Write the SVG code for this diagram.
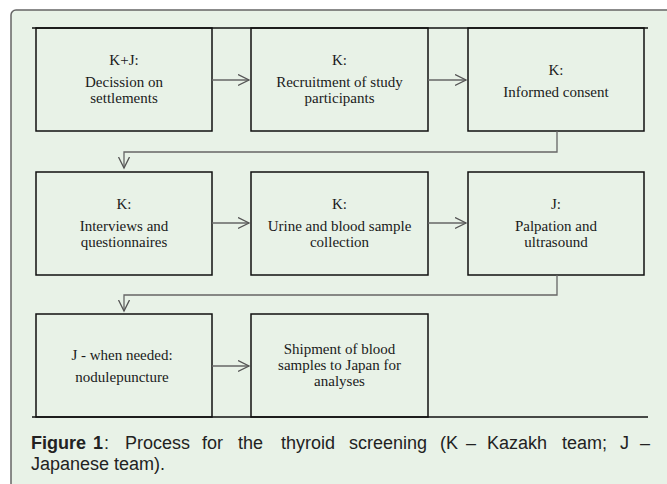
<svg xmlns="http://www.w3.org/2000/svg" width="667" height="484" viewBox="0 0 667 484">
<defs>
<style>
.box{fill:none;stroke:#111;stroke-width:1.5}
.ln{fill:none;stroke:#111;stroke-width:1.5}
.con{fill:none;stroke:#666;stroke-width:1.3}
.t{font-family:"Liberation Serif","Times New Roman",serif;font-size:15px;fill:#1a1a1a;text-anchor:middle}
.cap{font-family:"Liberation Sans",Arial,sans-serif;font-size:18px;fill:#222}
</style>
<marker id="ah" markerWidth="14" markerHeight="14" refX="11" refY="6" orient="auto" markerUnits="userSpaceOnUse">
<path d="M0,0.5 L11,6 L0,11.5" fill="none" stroke="#555" stroke-width="1.3"/>
</marker>
</defs>
<rect x="0" y="0" width="667" height="484" fill="#ffffff"/>
<rect id="panel" x="11" y="10" width="670" height="500" rx="5" fill="#e8f2e7" stroke="#666" stroke-width="1.5"/>
<g id="frame-lines">
<line class="ln" x1="32" y1="28" x2="648" y2="28"/>
<line class="ln" x1="32" y1="417" x2="648" y2="417"/>
</g>
<g id="n1"><rect class="box" x="36" y="28" width="176" height="103"/>
<text class="t" x="124" y="65">K+J:</text><text class="t" x="124" y="87">Decission on</text><text class="t" x="124" y="103">settlements</text></g>
<g id="n2"><rect class="box" x="251" y="28" width="177" height="103"/>
<text class="t" x="339.5" y="65">K:</text><text class="t" x="339.5" y="87">Recruitment of study</text><text class="t" x="339.5" y="103">participants</text></g>
<g id="n3"><rect class="box" x="468" y="28" width="176" height="103"/>
<text class="t" x="556" y="75">K:</text><text class="t" x="556" y="97">Informed consent</text></g>
<g id="n4"><rect class="box" x="36" y="172" width="176" height="103"/>
<text class="t" x="124" y="209">K:</text><text class="t" x="124" y="231">Interviews and</text><text class="t" x="124" y="247">questionnaires</text></g>
<g id="n5"><rect class="box" x="251" y="172" width="177" height="103"/>
<text class="t" x="339.5" y="209">K:</text><text class="t" x="339.5" y="231">Urine and blood sample</text><text class="t" x="339.5" y="247">collection</text></g>
<g id="n6"><rect class="box" x="468" y="172" width="176" height="103"/>
<text class="t" x="556" y="209">J:</text><text class="t" x="556" y="231">Palpation and</text><text class="t" x="556" y="247">ultrasound</text></g>
<g id="n7"><rect class="box" x="36" y="314" width="176" height="103"/>
<text class="t" x="122" y="360">J - when needed:</text><text class="t" x="122" y="382">nodulepuncture</text></g>
<g id="n8"><rect class="box" x="251" y="314" width="177" height="103"/>
<text class="t" x="339.5" y="354">Shipment of blood</text><text class="t" x="339.5" y="370">samples to Japan for</text><text class="t" x="339.5" y="386">analyses</text></g>
<g id="connectors">
<line class="con" x1="212" y1="80" x2="249" y2="80" marker-end="url(#ah)"/>
<line class="con" x1="428" y1="80" x2="466" y2="80" marker-end="url(#ah)"/>
<polyline class="con" points="557,131 557,152 124,152 124,168" marker-end="url(#ah)"/>
<line class="con" x1="212" y1="223" x2="249" y2="223" marker-end="url(#ah)"/>
<line class="con" x1="428" y1="223" x2="466" y2="223" marker-end="url(#ah)"/>
<polyline class="con" points="557,275 557,295 124,295 124,311" marker-end="url(#ah)"/>
<line class="con" x1="212" y1="366" x2="249" y2="366" marker-end="url(#ah)"/>
</g>
<g id="caption" class="cap">
<text y="449"><tspan x="31" font-weight="bold">Figure</tspan><tspan x="93" font-weight="bold">1</tspan><tspan x="104">:</tspan><tspan x="125">Process</tspan><tspan x="202">for</tspan><tspan x="238">the</tspan><tspan x="281">thyroid</tspan><tspan x="349">screening</tspan><tspan x="440">(K</tspan><tspan x="466">–</tspan><tspan x="487">Kazakh</tspan><tspan x="562">team;</tspan><tspan x="620">J</tspan><tspan x="640">–</tspan></text>
<text x="31" y="470">Japanese team).</text>
</g>
</svg>
